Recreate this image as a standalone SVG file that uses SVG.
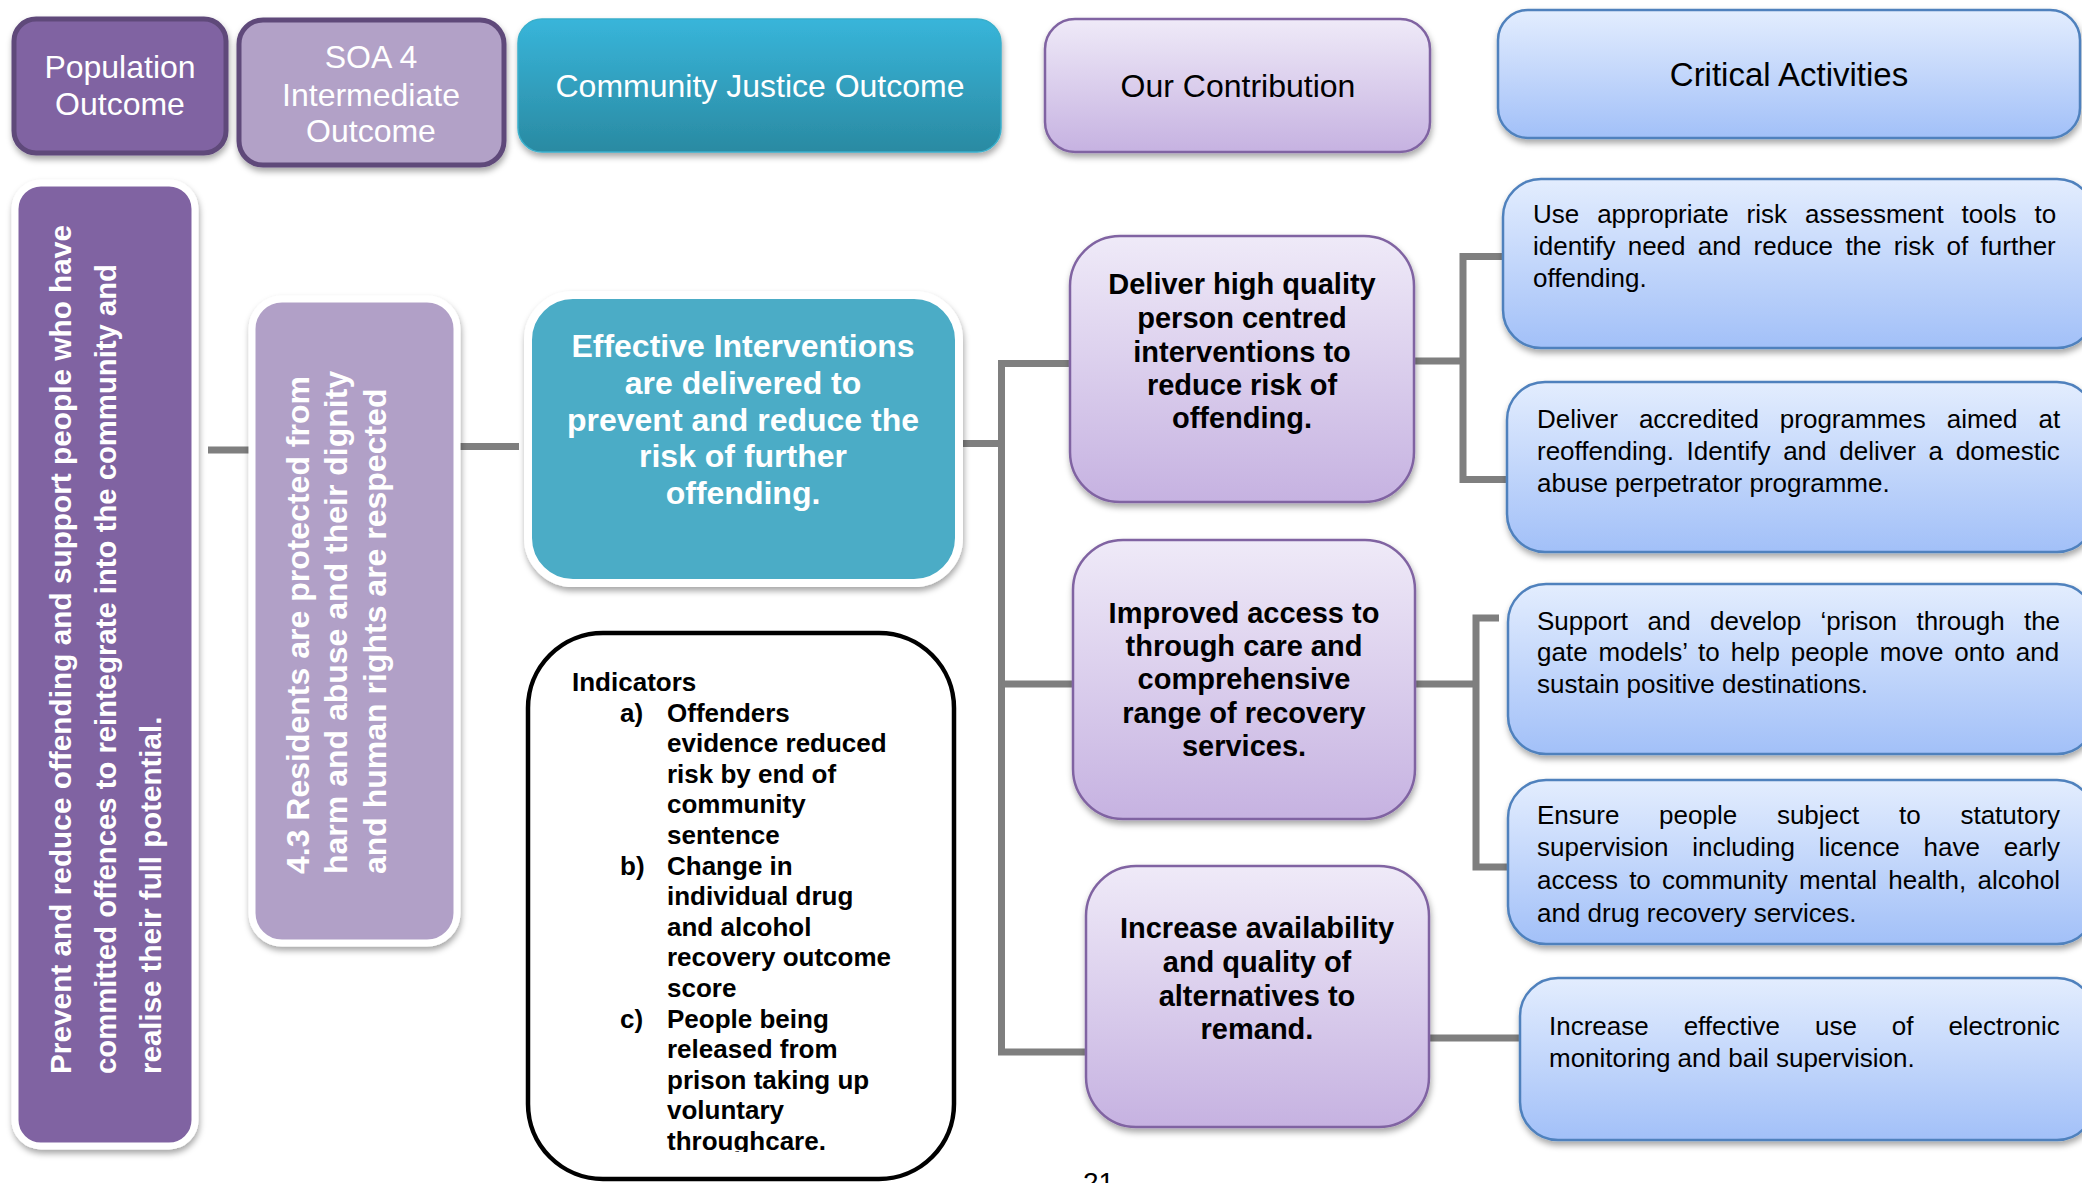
<svg xmlns="http://www.w3.org/2000/svg" width="2082" height="1183" viewBox="0 0 2082 1183">
<defs>
<style>
text { font-family: 'Liberation Sans', Arial, sans-serif; }
.hdr { font-size: 32px; text-anchor: middle; }
.w { fill: #ffffff; }
.k { fill: #000000; }
.b { font-weight: bold; }
.ctr { font-size: 29px; font-weight: bold; text-anchor: middle; fill: #000000; }
.act { font-size: 26px; fill: #000000; }
.ind { font-size: 26px; font-weight: bold; fill: #000000; }
.conn { fill: none; stroke: #7F7F7F; stroke-width: 7; stroke-linejoin: miter; }
.pbox { fill: url(#pg); stroke: #8064A2; stroke-width: 2.5; filter: url(#sh); }
.bbox { fill: url(#bg); stroke: #4F81BD; stroke-width: 2.5; filter: url(#sh); }
</style>
<filter id="sh" x="-10%" y="-10%" width="125%" height="130%">
<feDropShadow dx="1" dy="4" stdDeviation="3" flood-color="#000000" flood-opacity="0.35"/>
</filter>
<linearGradient id="pg" x1="0" y1="0" x2="0" y2="1">
<stop offset="0" stop-color="#EFEAF8"/>
<stop offset="1" stop-color="#C6B2E1"/>
</linearGradient>
<linearGradient id="bg" x1="0" y1="0" x2="0" y2="1">
<stop offset="0" stop-color="#E3EDFE"/>
<stop offset="1" stop-color="#A2C0F8"/>
</linearGradient>
<linearGradient id="tg" x1="0" y1="0" x2="0" y2="1">
<stop offset="0" stop-color="#38B5DA"/>
<stop offset="1" stop-color="#2A8AA2"/>
</linearGradient>
<clipPath id="indclip">
<rect x="528" y="633" width="426" height="519"/>
</clipPath>
</defs>
<rect x="0" y="0" width="2082" height="1183" fill="#ffffff"/>

<g id="connectors">
<path class="conn" d="M208 450 H250"/>
<path class="conn" d="M459 446.5 H519"/>
<path class="conn" d="M959 443.5 H1001.5"/>
<path class="conn" d="M1071 363.5 H1001.5 V1052 H1087"/>
<path class="conn" d="M1001.5 684 H1074"/>
<path class="conn" d="M1414 361 H1463"/>
<path class="conn" d="M1504 256.5 H1463 V479.5 H1508"/>
<path class="conn" d="M1415 684 H1476"/>
<path class="conn" d="M1499 618 H1476 V867 H1509"/>
<path class="conn" d="M1429 1038 H1521"/>
</g>

<g id="hdr-population">
<rect x="14" y="19" width="212" height="134" rx="22" fill="#8064A2" stroke="#5F497A" stroke-width="5" filter="url(#sh)"/>
<text class="hdr w" x="120" y="78">Population</text>
<text class="hdr w" x="120" y="115">Outcome</text>
</g>
<g id="hdr-soa">
<rect x="239" y="20" width="265" height="145" rx="24" fill="#B2A1C7" stroke="#5F497A" stroke-width="5" filter="url(#sh)"/>
<text class="hdr w" x="371" y="68">SOA 4</text>
<text class="hdr w" x="371" y="106">Intermediate</text>
<text class="hdr w" x="371" y="142">Outcome</text>
</g>
<g id="hdr-cj">
<rect x="518" y="19" width="483" height="133" rx="24" fill="url(#tg)" stroke="#3AAFCB" stroke-width="1.5" filter="url(#sh)"/>
<text class="hdr w" x="760" y="97">Community Justice Outcome</text>
</g>
<g id="hdr-contribution">
<rect x="1045" y="19" width="385" height="133" rx="30" class="pbox"/>
<text class="hdr k" x="1238" y="97">Our Contribution</text>
</g>
<g id="hdr-critical">
<rect x="1498" y="10" width="582" height="128" rx="30" class="bbox"/>
<text class="hdr k" x="1789" y="86" style="font-size:33px">Critical Activities</text>
</g>

<g id="population-outcome">
<rect x="15" y="183" width="180" height="963" rx="26" fill="#8064A2" stroke="#ffffff" stroke-width="7" filter="url(#sh)"/>
<text class="w b" style="font-size:29.5px" transform="translate(71 1074) rotate(-90)" textLength="849" lengthAdjust="spacingAndGlyphs">Prevent and reduce offending and support people who have</text>
<text class="w b" style="font-size:29.5px" transform="translate(116 1074) rotate(-90)" textLength="810" lengthAdjust="spacingAndGlyphs">committed offences to reintegrate into the community and</text>
<text class="w b" style="font-size:29.5px" transform="translate(161 1074) rotate(-90)">realise their full potential.</text>
</g>

<g id="soa-outcome">
<rect x="252" y="299" width="205" height="644" rx="30" fill="#B1A0C7" stroke="#ffffff" stroke-width="7" filter="url(#sh)"/>
<text class="w b" style="font-size:32px" transform="translate(309 874) rotate(-90)">4.3 Residents are protected from</text>
<text class="w b" style="font-size:32px" transform="translate(347 874) rotate(-90)">harm and abuse and their dignity</text>
<text class="w b" style="font-size:32px" transform="translate(386 874) rotate(-90)">and human rights are respected</text>
</g>

<g id="cj-outcome">
<rect x="528" y="295" width="431" height="288" rx="45" fill="#4BACC6" stroke="#ffffff" stroke-width="8" filter="url(#sh)"/>
<g class="w b" style="font-size:32px" text-anchor="middle">
<text x="743" y="357">Effective Interventions</text>
<text x="743" y="394">are delivered to</text>
<text x="743" y="431">prevent and reduce the</text>
<text x="743" y="467">risk of further</text>
<text x="743" y="504">offending.</text>
</g>
</g>

<g id="indicators">
<rect x="528" y="633" width="426" height="546" rx="75" fill="#ffffff" stroke="#000000" stroke-width="4.5"/>
<g clip-path="url(#indclip)">
<text class="ind" x="572" y="691">Indicators</text>
<text class="ind" x="620" y="721.5">a)</text>
<text class="ind" x="667" y="721.5">Offenders</text>
<text class="ind" x="667" y="752.1">evidence reduced</text>
<text class="ind" x="667" y="782.7">risk by end of</text>
<text class="ind" x="667" y="813.3">community</text>
<text class="ind" x="667" y="843.9">sentence</text>
<text class="ind" x="620" y="874.5">b)</text>
<text class="ind" x="667" y="874.5">Change in</text>
<text class="ind" x="667" y="905.1">individual drug</text>
<text class="ind" x="667" y="935.7">and alcohol</text>
<text class="ind" x="667" y="966.3">recovery outcome</text>
<text class="ind" x="667" y="996.9">score</text>
<text class="ind" x="620" y="1027.5">c)</text>
<text class="ind" x="667" y="1027.5">People being</text>
<text class="ind" x="667" y="1058.1">released from</text>
<text class="ind" x="667" y="1088.7">prison taking up</text>
<text class="ind" x="667" y="1119.3">voluntary</text>
<text class="ind" x="667" y="1149.9">throughcare.</text>
</g>
</g>

<g id="contrib-deliver">
<rect x="1070" y="236" width="344" height="266" rx="50" class="pbox"/>
<text class="ctr" x="1242" y="294">Deliver high quality</text>
<text class="ctr" x="1242" y="328">person centred</text>
<text class="ctr" x="1242" y="362">interventions to</text>
<text class="ctr" x="1242" y="395">reduce risk of</text>
<text class="ctr" x="1242" y="428">offending.</text>
</g>
<g id="contrib-improved">
<rect x="1073" y="540" width="342" height="279" rx="50" class="pbox"/>
<text class="ctr" x="1244" y="623">Improved access to</text>
<text class="ctr" x="1244" y="656">through care and</text>
<text class="ctr" x="1244" y="689">comprehensive</text>
<text class="ctr" x="1244" y="723">range of recovery</text>
<text class="ctr" x="1244" y="756">services.</text>
</g>
<g id="contrib-increase">
<rect x="1086" y="866" width="343" height="261" rx="50" class="pbox"/>
<text class="ctr" x="1257" y="938">Increase availability</text>
<text class="ctr" x="1257" y="972">and quality of</text>
<text class="ctr" x="1257" y="1006">alternatives to</text>
<text class="ctr" x="1257" y="1039">remand.</text>
</g>

<g id="activity-1">
<rect x="1503" y="179" width="592" height="169" rx="38" class="bbox"/>
<text class="act" x="1533" y="223" word-spacing="10.7">Use appropriate risk assessment tools to</text>
<text class="act" x="1533" y="255" word-spacing="5.1">identify need and reduce the risk of further</text>
<text class="act" x="1533" y="287">offending.</text>
</g>
<g id="activity-2">
<rect x="1507" y="382" width="588" height="170" rx="38" class="bbox"/>
<text class="act" x="1537" y="428" word-spacing="13.75">Deliver accredited programmes aimed at</text>
<text class="act" x="1537" y="460" word-spacing="5.5">reoffending. Identify and deliver a domestic</text>
<text class="act" x="1537" y="492">abuse perpetrator programme.</text>
</g>
<g id="activity-3">
<rect x="1508" y="584" width="587" height="170" rx="38" class="bbox"/>
<text class="act" x="1537" y="630" word-spacing="12.1">Support and develop &#8216;prison through the</text>
<text class="act" x="1537" y="661" word-spacing="3.7">gate models&#8217; to help people move onto and</text>
<text class="act" x="1537" y="693">sustain positive destinations.</text>
</g>
<g id="activity-4">
<rect x="1508" y="780" width="587" height="164" rx="38" class="bbox"/>
<text class="act" x="1537" y="824" word-spacing="32.5">Ensure people subject to statutory</text>
<text class="act" x="1537" y="856" word-spacing="16.6">supervision including licence have early</text>
<text class="act" x="1537" y="889" word-spacing="4.0">access to community mental health, alcohol</text>
<text class="act" x="1537" y="922">and drug recovery services.</text>
</g>
<g id="activity-5">
<rect x="1520" y="978" width="575" height="162" rx="38" class="bbox"/>
<text class="act" x="1549" y="1035" word-spacing="27.7">Increase effective use of electronic</text>
<text class="act" x="1549" y="1067">monitoring and bail supervision.</text>
</g>

<text x="1083" y="1192" style="font-size:28px" fill="#000000">21</text>
</svg>
